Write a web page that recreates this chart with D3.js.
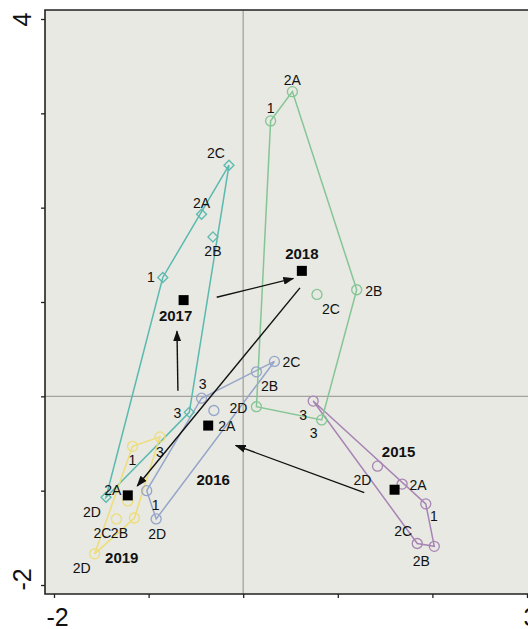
<!DOCTYPE html>
<html>
<head>
<meta charset="utf-8">
<script src="https://cdn.jsdelivr.net/npm/d3@7"></script>
<style>
  body { margin: 0; background: #fff; }
  svg { display: block; font-family: "Liberation Sans", Arial, sans-serif; }
</style>
</head>
<body>
<div id="chart"></div>
<script>
// data
const years = ["2015", "2016", "2017", "2018", "2019"];
const sampleLabels = ["1", "2A", "2B", "2C", "2D", "3"];

const x2015 = [1.93, 1.68, 2.02, 1.84, 1.42, 0.74];
const y2015 = [-1.14, -0.93, -1.59, -1.56, -0.74, -0.05];
const x2016 = [-1.02, -0.31, 0.14, 0.33, -0.92, -0.44];
const y2016 = [-1.00, -0.15, 0.26, 0.37, -1.30, -0.02];
const x2017 = [-0.85, -0.44, -0.32, -0.15, -1.45, -0.57];
const y2017 = [1.26, 1.93, 1.69, 2.45, -1.07, -0.17];
const x2018 = [0.29, 0.52, 1.20, 0.78, 0.14, 0.83];
const y2018 = [2.92, 3.23, 1.13, 1.08, -0.11, -0.25];
const x2019 = [-1.17, -1.22, -1.15, -1.34, -1.57, -0.88];
const y2019 = [-0.53, -1.11, -1.29, -1.30, -1.67, -0.43];

const centroidX = [1.60, -0.37, -0.63, 0.62, -1.22];
const centroidY = [-0.99, -0.31, 1.02, 1.33, -1.05];

const arrowFromX = [1.28, -0.69, -0.28, 0.60];
const arrowFromY = [-1.02, 0.06, 1.05, 1.15];
const arrowToX = [-0.08, -0.70, 0.53, -1.12];
const arrowToY = [-0.52, 0.69, 1.25, -0.95];

const xTicks = [-2, -1, 0, 1, 2, 3];
const yTicks = [-2, -1, 0, 1, 2, 3, 4];
const xTickLabels = ["-2", "", "", "", "", "3"];
const yTickLabels = ["-2", "", "", "", "", "", "4"];

// styles / layout
const colors = ["#a884b5", "#96a4c9", "#5bbab0", "#86c596", "#eedd78"];
const shapes = ["circle", "circle", "diamond", "circle", "circle"];
const labelOffsets = [
  [[8, 12], [16, 1], [-13, 15], [-14, -12], [-15, 14], [-10, 14]],
  [[9, 14], [13, 16], [13, 14], [17, 1], [1, 15], [1, -14]],
  [[-12, 0], [0, -11], [0, 14], [-13, -12], [-14, 15], [-12, 1]],
  [[0, -13], [0, -12], [17, 1], [14, 15], [-18, 1], [-8, 13]],
  [[0, 14], [-15, -11], [-15, 15], [-14, 14], [-13, 14], [0, 15]]
];
const yearOffsets = [[4, -38], [5, 54], [-8, 16], [0, -17], [-6, 62]];

const xs = [x2015, x2016, x2017, x2018, x2019];
const ys = [y2015, y2016, y2017, y2018, y2019];

const W = 528, H = 629;
const frame = { left: 45, top: 10, right: 545, bottom: 594 };

const svg = d3.select("#chart").append("svg")
  .attr("width", W).attr("height", H);

const x = d3.scaleLinear().domain([-2, 3]).range([54, 527]);
const y = d3.scaleLinear().domain([-2, 4]).range([585, 19]);

svg.append("defs").append("marker")
  .attr("id", "arrow")
  .attr("markerUnits", "userSpaceOnUse")
  .attr("markerWidth", 11).attr("markerHeight", 8)
  .attr("refX", 10).attr("refY", 4)
  .attr("orient", "auto")
  .append("path").attr("d", "M0,0 L11,4 L0,8 Z").attr("fill", "#111");

svg.append("rect")
  .attr("x", frame.left).attr("y", frame.top)
  .attr("width", frame.right - frame.left).attr("height", frame.bottom - frame.top)
  .attr("fill", "#e7e9e2");

// zero lines
svg.append("line")
  .attr("x1", x(0)).attr("x2", x(0))
  .attr("y1", frame.top).attr("y2", frame.bottom)
  .attr("stroke", "#a3a3a0").attr("stroke-width", 1.3);
svg.append("line")
  .attr("x1", frame.left).attr("x2", frame.right)
  .attr("y1", y(0)).attr("y2", y(0))
  .attr("stroke", "#a3a3a0").attr("stroke-width", 1.3);

// axes
const xAxis = svg.append("g")
  .attr("transform", "translate(0," + frame.bottom + ")")
  .call(d3.axisBottom(x).tickValues(xTicks).tickSize(4).tickPadding(10)
    .tickFormat((d, i) => xTickLabels[i]));
const yAxis = svg.append("g")
  .attr("transform", "translate(" + frame.left + ",0)")
  .call(d3.axisLeft(y).tickValues(yTicks).tickSize(4).tickPadding(10)
    .tickFormat((d, i) => yTickLabels[i]));
[xAxis, yAxis].forEach(g => {
  g.select(".domain").remove();
  g.selectAll(".tick line").attr("stroke", "#222").attr("stroke-width", 1.3);
  g.selectAll("text").attr("fill", "#111").attr("font-size", 25)
    .attr("font-family", "Liberation Sans, Arial, sans-serif");
});
xAxis.selectAll("text").attr("dx", 3);
yAxis.selectAll("text")
  .attr("text-anchor", "middle")
  .attr("x", 0).attr("y", 0).attr("dy", "0.35em")
  .attr("transform", (d, i) => "translate(-23," + (i === 0 ? -6 : 0) + ") rotate(-90)");

// frame (left, top, bottom)
svg.append("path")
  .attr("d", "M" + frame.right + "," + frame.top + "H" + frame.left + "V" + frame.bottom + "H" + frame.right)
  .attr("fill", "none").attr("stroke", "#222").attr("stroke-width", 1.6);

// hulls
years.forEach((yr, k) => {
  const pts = xs[k].map((v, i) => [x(v), y(ys[k][i])]);
  const hull = d3.polygonHull(pts);
  svg.append("path")
    .attr("d", "M" + hull.join("L") + "Z")
    .attr("fill", "none").attr("stroke", colors[k]).attr("stroke-width", 1.5);
});

// points
years.forEach((yr, k) => {
  const g = svg.append("g");
  xs[k].forEach((v, i) => {
    const px = x(v), py = y(ys[k][i]);
    if (shapes[k] === "diamond") {
      g.append("path")
        .attr("d", d3.symbol(d3.symbolSquare, 50)())
        .attr("transform", "translate(" + px + "," + py + ") rotate(45)")
        .attr("fill", "none").attr("stroke", colors[k]).attr("stroke-width", 1.3);
    } else {
      g.append("circle").attr("cx", px).attr("cy", py).attr("r", 5)
        .attr("fill", "none").attr("stroke", colors[k]).attr("stroke-width", 1.3);
    }
  });
});

// sample labels
years.forEach((yr, k) => {
  xs[k].forEach((v, i) => {
    svg.append("text")
      .attr("x", x(v) + labelOffsets[k][i][0])
      .attr("y", y(ys[k][i]) + labelOffsets[k][i][1])
      .attr("text-anchor", "middle").attr("dy", "0.35em")
      .attr("font-size", 14).attr("fill", "#111")
      .text(sampleLabels[i]);
  });
});

// centroids
years.forEach((yr, k) => {
  svg.append("rect")
    .attr("x", x(centroidX[k]) - 5).attr("y", y(centroidY[k]) - 5)
    .attr("width", 10).attr("height", 10).attr("fill", "#000");
  svg.append("text")
    .attr("x", x(centroidX[k]) + yearOffsets[k][0])
    .attr("y", y(centroidY[k]) + yearOffsets[k][1])
    .attr("text-anchor", "middle").attr("dy", "0.35em")
    .attr("font-size", 15).attr("font-weight", "bold").attr("fill", "#111")
    .text(yr);
});

// arrows between years
arrowFromX.forEach((v, i) => {
  svg.append("line")
    .attr("x1", x(v)).attr("y1", y(arrowFromY[i]))
    .attr("x2", x(arrowToX[i])).attr("y2", y(arrowToY[i]))
    .attr("stroke", "#111").attr("stroke-width", 1.4)
    .attr("marker-end", "url(#arrow)");
});
</script>
</body>
</html>
